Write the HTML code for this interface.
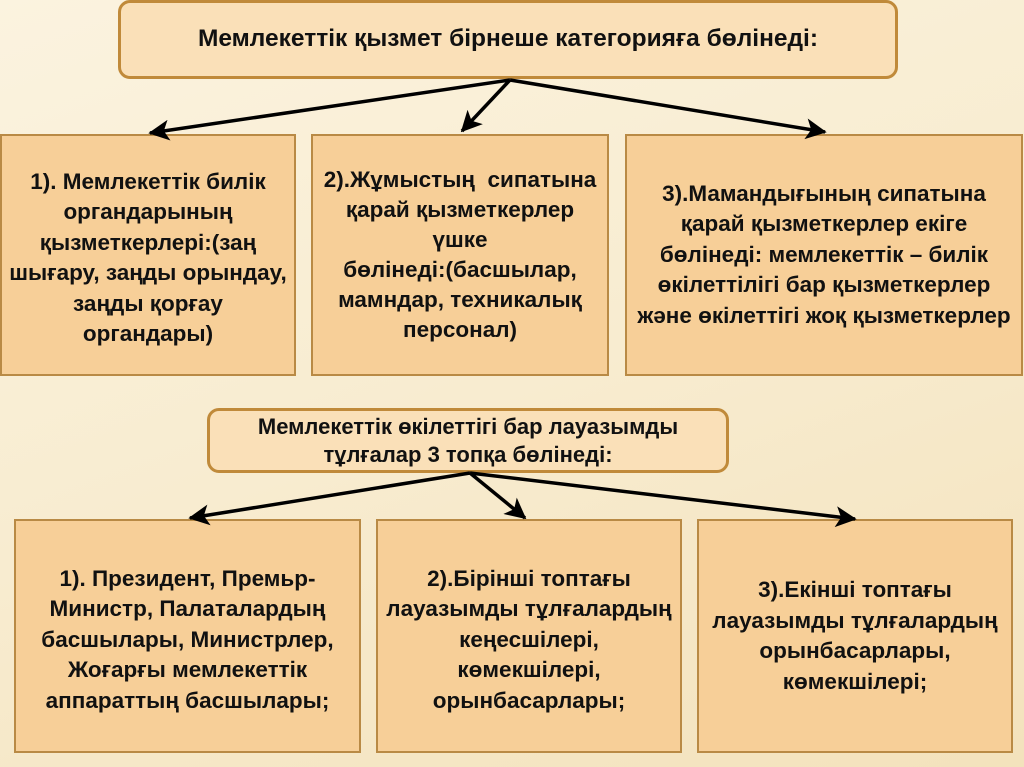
<!DOCTYPE html>
<html><head><meta charset="utf-8"><style>
body{margin:0;width:1024px;height:767px;overflow:hidden;background:linear-gradient(160deg,#fbf3df 0%,#f8ecd0 50%,#f3e2bc 100%);font-family:"Liberation Sans",sans-serif;position:relative}
.b{position:absolute;box-sizing:border-box;display:flex;align-items:center;justify-content:center;text-align:center;font-weight:bold;color:#111;font-size:22.5px;line-height:30.5px;white-space:nowrap}
.l2{background:#f7cf98;border:2px solid #b98a45}
.t{background:#fae0b8;border:3px solid #c08a3a;border-radius:12px}
svg{position:absolute;left:0;top:0}
</style></head><body>
<div class="b t" style="left:118px;top:0;width:780px;height:79px;font-size:24.5px">Мемлекеттік қызмет бірнеше категорияға бөлінеді:</div>
<div class="b l2" style="left:0;top:134px;width:296px;height:242px;padding-top:6px">1). Мемлекеттік билік<br>органдарының<br>қызметкерлері:(заң<br>шығару, заңды орындау,<br>заңды қорғау<br>органдары)</div>
<div class="b l2" style="left:311px;top:134px;width:298px;height:242px;line-height:30px">2).Жұмыстың &nbsp;сипатына<br>қарай қызметкерлер<br>үшке<br>бөлінеді:(басшылар,<br>мамндар, техникалық<br>персонал)</div>
<div class="b l2" style="left:625px;top:134px;width:398px;height:242px">3).Мамандығының сипатына<br>қарай қызметкерлер екіге<br>бөлінеді: мемлекеттік – билік<br>өкілеттілігі бар қызметкерлер<br>және өкілеттігі жоқ қызметкерлер</div>
<div class="b t" style="left:207px;top:408px;width:522px;height:65px;line-height:28px;font-size:22px">Мемлекеттік өкілеттігі бар лауазымды<br>тұлғалар 3 топқа бөлінеді:</div>
<div class="b l2" style="left:14px;top:519px;width:347px;height:234px;padding-top:8px">1). Президент, Премьр-<br>Министр, Палаталардың<br>басшылары, Министрлер,<br>Жоғарғы мемлекеттік<br>аппараттың басшылары;</div>
<div class="b l2" style="left:376px;top:519px;width:306px;height:234px;padding-top:8px">2).Бірінші топтағы<br>лауазымды тұлғалардың<br>кеңесшілері,<br>көмекшілері,<br>орынбасарлары;</div>
<div class="b l2" style="left:697px;top:519px;width:316px;height:234px">3).Екінші топтағы<br>лауазымды тұлғалардың<br>орынбасарлары,<br>көмекшілері;</div>
<svg width="1024" height="767"><defs><marker id="a" markerWidth="6" markerHeight="6" refX="5.5" refY="3" orient="auto" markerUnits="strokeWidth"><path d="M0,0 L6,3 L0,6 L1.5,3z" fill="#000"/></marker></defs>
<g stroke="#000" stroke-width="3.5" fill="none" marker-end="url(#a)">
<line x1="510" y1="80" x2="150" y2="133"/><line x1="510" y1="80" x2="462" y2="131"/><line x1="510" y1="80" x2="825" y2="132"/>
<line x1="470" y1="473" x2="190" y2="518"/><line x1="470" y1="473" x2="525" y2="518"/><line x1="470" y1="473" x2="855" y2="519"/>
</g></svg>
</body></html>
